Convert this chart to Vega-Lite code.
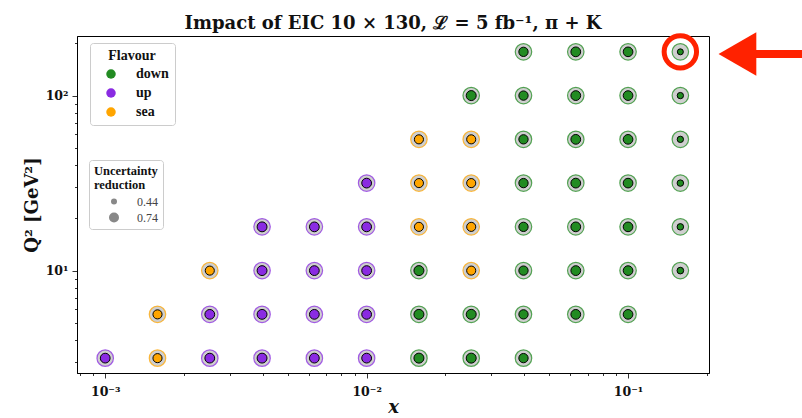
{
  "$schema": "https://vega.github.io/schema/vega-lite/v6.json",
  "width": 632,
  "height": 337,
  "autosize": "none",
  "padding": {"left": 77, "top": 36, "right": 93, "bottom": 45},
  "background": "white",
  "title": {
    "text": "Impact of EIC 10 × 130, ℒ = 5 fb⁻¹, π + K",
    "font": "DejaVu Serif",
    "fontSize": 18,
    "fontWeight": "bold",
    "color": "#111111",
    "anchor": "middle",
    "offset": 5,
    "dy": 12
  },
  "config": {
    "view": {"stroke": "black", "strokeWidth": 1},
    "axis": {
      "domainColor": "black",
      "tickColor": "#333333",
      "labelFont": "DejaVu Serif",
      "labelFontWeight": "bold",
      "labelFontSize": 12.5,
      "labelColor": "#111111",
      "titleFont": "DejaVu Serif",
      "titleFontWeight": "bold",
      "titleFontSize": 18,
      "titleColor": "#111111",
      "grid": false
    },
    "legend": {
      "strokeColor": "#cccccc",
      "fillColor": "white",
      "cornerRadius": 3,
      "titleFont": "Liberation Serif",
      "labelFont": "Liberation Serif",
      "titleColor": "#111111",
      "labelColor": "#111111"
    }
  },
  "datasets": {
    "arrowhead": [{"x": 0.262, "q2": 173}],
    "arrowshaft": [{"x": 0.28, "x2": 0.5, "q2": 173}]
  },
  "data": {
    "values": [
      {"x": 0.001, "q2": 3.162, "flavour": "up", "reduction": 0.72},
      {"x": 0.001585, "q2": 3.162, "flavour": "sea", "reduction": 0.66},
      {"x": 0.002512, "q2": 3.162, "flavour": "up", "reduction": 0.72},
      {"x": 0.003981, "q2": 3.162, "flavour": "up", "reduction": 0.73},
      {"x": 0.00631, "q2": 3.162, "flavour": "up", "reduction": 0.72},
      {"x": 0.01, "q2": 3.162, "flavour": "up", "reduction": 0.72},
      {"x": 0.01585, "q2": 3.162, "flavour": "down", "reduction": 0.74},
      {"x": 0.02512, "q2": 3.162, "flavour": "down", "reduction": 0.74},
      {"x": 0.03981, "q2": 3.162, "flavour": "down", "reduction": 0.68},
      {"x": 0.001585, "q2": 5.623, "flavour": "sea", "reduction": 0.66},
      {"x": 0.002512, "q2": 5.623, "flavour": "up", "reduction": 0.72},
      {"x": 0.003981, "q2": 5.623, "flavour": "up", "reduction": 0.73},
      {"x": 0.00631, "q2": 5.623, "flavour": "up", "reduction": 0.72},
      {"x": 0.01, "q2": 5.623, "flavour": "up", "reduction": 0.72},
      {"x": 0.01585, "q2": 5.623, "flavour": "down", "reduction": 0.74},
      {"x": 0.02512, "q2": 5.623, "flavour": "down", "reduction": 0.74},
      {"x": 0.03981, "q2": 5.623, "flavour": "down", "reduction": 0.68},
      {"x": 0.0631, "q2": 5.623, "flavour": "down", "reduction": 0.72},
      {"x": 0.1, "q2": 5.623, "flavour": "down", "reduction": 0.71},
      {"x": 0.002512, "q2": 10, "flavour": "sea", "reduction": 0.66},
      {"x": 0.003981, "q2": 10, "flavour": "up", "reduction": 0.73},
      {"x": 0.00631, "q2": 10, "flavour": "up", "reduction": 0.72},
      {"x": 0.01, "q2": 10, "flavour": "up", "reduction": 0.72},
      {"x": 0.01585, "q2": 10, "flavour": "down", "reduction": 0.74},
      {"x": 0.02512, "q2": 10, "flavour": "sea", "reduction": 0.66},
      {"x": 0.03981, "q2": 10, "flavour": "down", "reduction": 0.68},
      {"x": 0.0631, "q2": 10, "flavour": "down", "reduction": 0.72},
      {"x": 0.1, "q2": 10, "flavour": "down", "reduction": 0.71},
      {"x": 0.1585, "q2": 10, "flavour": "down", "reduction": 0.48},
      {"x": 0.003981, "q2": 17.78, "flavour": "up", "reduction": 0.73},
      {"x": 0.00631, "q2": 17.78, "flavour": "up", "reduction": 0.72},
      {"x": 0.01, "q2": 17.78, "flavour": "up", "reduction": 0.72},
      {"x": 0.01585, "q2": 17.78, "flavour": "sea", "reduction": 0.66},
      {"x": 0.02512, "q2": 17.78, "flavour": "sea", "reduction": 0.66},
      {"x": 0.03981, "q2": 17.78, "flavour": "down", "reduction": 0.68},
      {"x": 0.0631, "q2": 17.78, "flavour": "down", "reduction": 0.72},
      {"x": 0.1, "q2": 17.78, "flavour": "down", "reduction": 0.71},
      {"x": 0.1585, "q2": 17.78, "flavour": "down", "reduction": 0.47},
      {"x": 0.01, "q2": 31.62, "flavour": "up", "reduction": 0.72},
      {"x": 0.01585, "q2": 31.62, "flavour": "sea", "reduction": 0.66},
      {"x": 0.02512, "q2": 31.62, "flavour": "sea", "reduction": 0.66},
      {"x": 0.03981, "q2": 31.62, "flavour": "down", "reduction": 0.68},
      {"x": 0.0631, "q2": 31.62, "flavour": "down", "reduction": 0.72},
      {"x": 0.1, "q2": 31.62, "flavour": "down", "reduction": 0.71},
      {"x": 0.1585, "q2": 31.62, "flavour": "down", "reduction": 0.47},
      {"x": 0.01585, "q2": 56.23, "flavour": "sea", "reduction": 0.66},
      {"x": 0.02512, "q2": 56.23, "flavour": "sea", "reduction": 0.66},
      {"x": 0.03981, "q2": 56.23, "flavour": "down", "reduction": 0.68},
      {"x": 0.0631, "q2": 56.23, "flavour": "down", "reduction": 0.72},
      {"x": 0.1, "q2": 56.23, "flavour": "down", "reduction": 0.71},
      {"x": 0.1585, "q2": 56.23, "flavour": "down", "reduction": 0.46},
      {"x": 0.02512, "q2": 100, "flavour": "down", "reduction": 0.74},
      {"x": 0.03981, "q2": 100, "flavour": "down", "reduction": 0.68},
      {"x": 0.0631, "q2": 100, "flavour": "down", "reduction": 0.72},
      {"x": 0.1, "q2": 100, "flavour": "down", "reduction": 0.71},
      {"x": 0.1585, "q2": 100, "flavour": "down", "reduction": 0.46},
      {"x": 0.03981, "q2": 177.8, "flavour": "down", "reduction": 0.68},
      {"x": 0.0631, "q2": 177.8, "flavour": "down", "reduction": 0.72},
      {"x": 0.1, "q2": 177.8, "flavour": "down", "reduction": 0.71},
      {"x": 0.1585, "q2": 177.8, "flavour": "down", "reduction": 0.44, "highlight": true}
    ]
  },
  "encoding": {
    "x": {
      "field": "x",
      "type": "quantitative",
      "scale": {"type": "log", "domain": [0.00078, 0.204], "nice": false},
      "axis": {
        "title": "x",
        "titleFontStyle": "italic",
        "titlePadding": 1,
        "values": [0.0008, 0.0009, 0.001, 0.002, 0.003, 0.004, 0.005, 0.006, 0.007, 0.008, 0.009, 0.01, 0.02, 0.03, 0.04, 0.05, 0.06, 0.07, 0.08, 0.09, 0.1, 0.2],
        "labelExpr": "datum.value == 0.001 ? '10⁻³' : datum.value == 0.01 ? '10⁻²' : datum.value == 0.1 ? '10⁻¹' : ''",
        "tickSize": {"condition": {"test": "datum.value == 0.001 || datum.value == 0.01 || datum.value == 0.1", "value": 5}, "value": 2.5},
        "labelPadding": 7,
        "labelFlush": false,
        "labelOverlap": false
      }
    },
    "y": {
      "field": "q2",
      "type": "quantitative",
      "scale": {"type": "log", "domain": [2.6, 219], "nice": false},
      "axis": {
        "title": "Q² [GeV²]",
        "titlePadding": 4,
        "values": [3, 4, 5, 6, 7, 8, 9, 10, 20, 30, 40, 50, 60, 70, 80, 90, 100, 200],
        "labelExpr": "datum.value == 10 ? '10¹' : datum.value == 100 ? '10²' : ''",
        "tickSize": {"condition": {"test": "datum.value == 10 || datum.value == 100", "value": 5}, "value": 2.5},
        "labelPadding": 4,
        "labelFlush": false,
        "labelOverlap": false
      }
    }
  },
  "layer": [
    {
      "mark": {"type": "point", "shape": "circle", "filled": false, "fill": "#cfcfcf", "fillOpacity": 1, "size": 272, "strokeWidth": 1.2, "strokeOpacity": 0.75, "opacity": 1},
      "encoding": {
        "stroke": {
          "field": "flavour",
          "type": "nominal",
          "scale": {"domain": ["down", "sea", "up"], "range": ["#228b22", "#ffa500", "#8a2be2"]},
          "legend": null
        }
      }
    },
    {
      "mark": {"type": "point", "shape": "circle", "filled": true, "stroke": "black", "strokeWidth": 1, "opacity": 1},
      "encoding": {
        "color": {
          "field": "flavour",
          "type": "nominal",
          "title": "Flavour",
          "scale": {"domain": ["down", "up", "sea"], "range": ["#228b22", "#8a2be2", "#ffa500"]},
          "legend": {
            "orient": "none",
            "legendX": 13,
            "legendY": 7,
            "padding": 6,
            "titleAnchor": "middle",
            "titleFontSize": 14,
            "titleFontWeight": "bold",
            "titlePadding": 4,
            "labelFontSize": 14,
            "labelFontWeight": "bold",
            "symbolType": "circle",
            "symbolSize": 90,
            "symbolStrokeWidth": 0,
            "symbolOffset": 8,
            "labelOffset": 18,
            "rowPadding": 5
          }
        },
        "size": {
          "field": "reduction",
          "type": "quantitative",
          "title": ["Uncertainty", "reduction"],
          "scale": {"domain": [0.44, 0.74], "range": [36, 100], "zero": false},
          "legend": {
            "orient": "none",
            "legendX": 12,
            "legendY": 124,
            "padding": 5,
            "values": [0.44, 0.74],
            "format": ".2f",
            "titleFontSize": 12.5,
            "titleFontWeight": "bold",
            "titleLineHeight": 14,
            "titlePadding": 4,
            "labelFontSize": 12,
            "labelFontWeight": "normal",
            "labelColor": "#444444",
            "symbolType": "circle",
            "symbolFillColor": "#888888",
            "symbolStrokeWidth": 0,
            "symbolOffset": 14,
            "labelOffset": 17,
            "rowPadding": 4
          }
        }
      }
    },
    {
      "transform": [{"filter": "datum.highlight === true"}],
      "mark": {"type": "point", "shape": "circle", "filled": false, "stroke": "#ff2200", "strokeWidth": 5, "size": 1050, "opacity": 1},
      "encoding": {}
    },
    {
      "data": {"name": "arrowshaft"},
      "mark": {"type": "rule", "color": "#ff2200", "strokeWidth": 8},
      "encoding": {"x": {"field": "x", "type": "quantitative"}, "x2": {"field": "x2"}, "y": {"field": "q2", "type": "quantitative"}}
    },
    {
      "data": {"name": "arrowhead"},
      "mark": {"type": "point", "shape": "triangle-left", "filled": true, "color": "#ff2200", "size": 1900, "opacity": 1},
      "encoding": {}
    }
  ]
}
